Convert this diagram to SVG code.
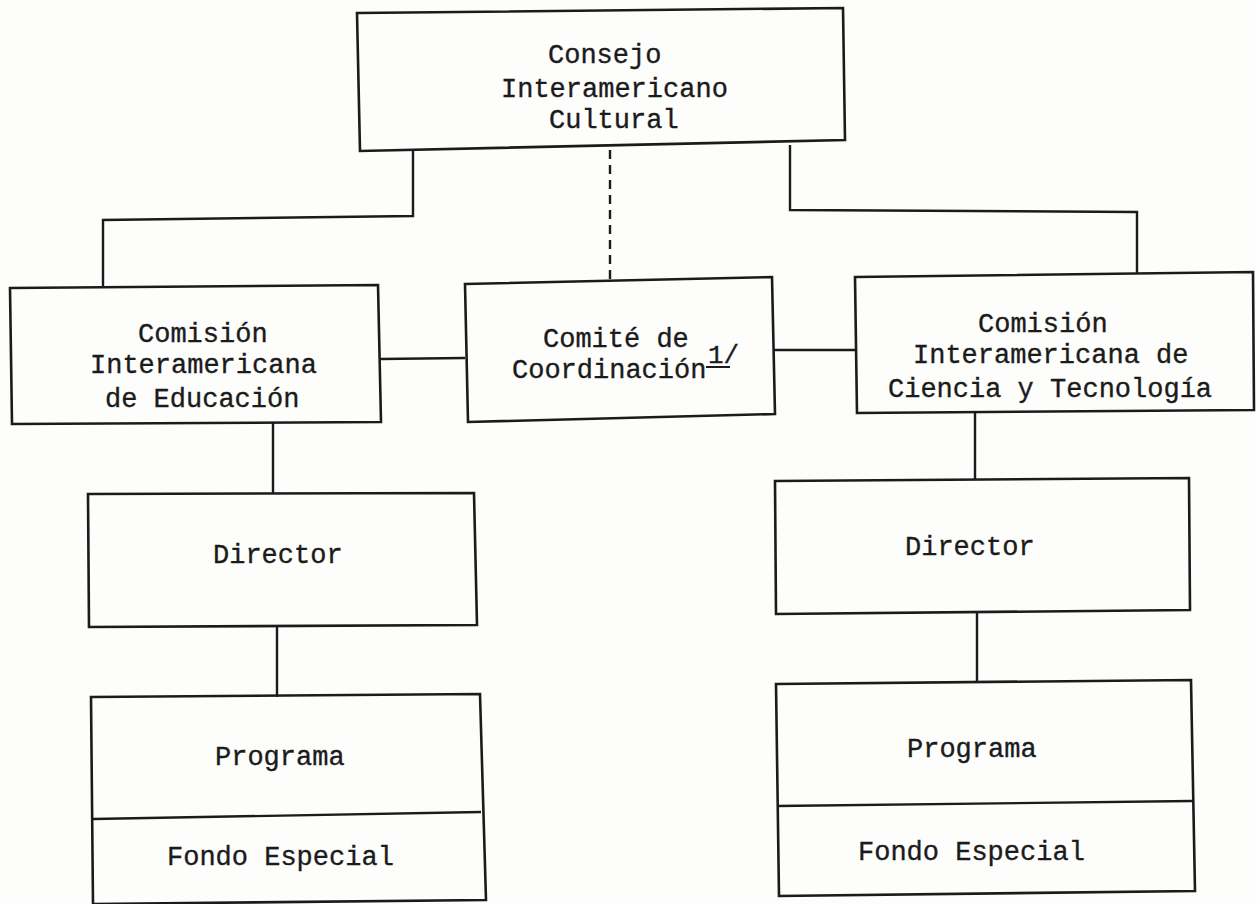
<svg xmlns="http://www.w3.org/2000/svg" width="1257" height="904" viewBox="0 0 1257 904">
<style>
.box{fill:none;stroke:#1b1b1b;stroke-width:2.6;stroke-linejoin:miter}
.ln{fill:none;stroke:#1b1b1b;stroke-width:2.4}
.dash{stroke-dasharray:9 6}
text{font-family:"Liberation Mono","Courier New",monospace;font-size:27px;fill:#1b1b1b;stroke:#1b1b1b;stroke-width:0.35}
</style>
<rect x="0" y="0" width="1257" height="904" fill="#fdfdfb"/>
<g id="connectors">
<polyline class="ln" points="413,150 413,216 103,220 103,288"/>
<polyline class="ln" points="790,145 790,210 1137,212 1137,273"/>
<line class="ln dash" x1="610" y1="150" x2="610" y2="281"/>
<line class="ln" x1="380" y1="359" x2="465" y2="358"/>
<line class="ln" x1="773" y1="350" x2="855" y2="350"/>
<line class="ln" x1="273" y1="423" x2="273" y2="494"/>
<line class="ln" x1="277" y1="626" x2="277" y2="697"/>
<line class="ln" x1="975" y1="412" x2="975" y2="480"/>
<line class="ln" x1="977" y1="612" x2="977" y2="682"/>
</g>
<g id="consejo">
<polygon class="box" points="357,13 843,8 845,140 360,151"/>
<text x="548" y="63">Consejo</text>
<text x="501" y="97">Interamericano</text>
<text x="549" y="128">Cultural</text>
</g>
<g id="comision-educacion">
<polygon class="box" points="10,288 378,285 381,422 12,424"/>
<text x="138" y="342">Comisión</text>
<text x="90" y="373">Interamericana</text>
<text x="105" y="407">de Educación</text>
</g>
<g id="comite">
<polygon class="box" points="465,284 772,277 775,414 468,422"/>
<text x="543" y="347">Comité de</text>
<text x="512" y="378">Coordinación</text>
<text x="708" y="363" style="font-size:26px">1/</text>
<line class="ln" x1="706" y1="367" x2="730" y2="367" style="stroke-width:2"/>
</g>
<g id="comision-ciencia">
<polygon class="box" points="855,277 1253,272 1254,410 857,413"/>
<text x="978" y="332">Comisión</text>
<text x="913" y="363">Interamericana de</text>
<text x="888" y="397">Ciencia y Tecnología</text>
</g>
<g id="director-izq">
<polygon class="box" points="88,494 474,493 477,625 89,627"/>
<text x="213" y="563">Director</text>
</g>
<g id="programa-izq">
<polygon class="box" points="91,697 480,694 486,900 93,904"/>
<line class="ln" x1="93" y1="819" x2="481" y2="812"/>
<text x="215" y="765">Programa</text>
<text x="167" y="865">Fondo Especial</text>
</g>
<g id="director-der">
<polygon class="box" points="775,481 1189,478 1190,610 776,614"/>
<text x="905" y="555">Director</text>
</g>
<g id="programa-der">
<polygon class="box" points="776,684 1191,680 1195,891 779,896"/>
<line class="ln" x1="777" y1="806" x2="1192" y2="801"/>
<text x="907" y="757">Programa</text>
<text x="858" y="860">Fondo Especial</text>
</g>
</svg>
